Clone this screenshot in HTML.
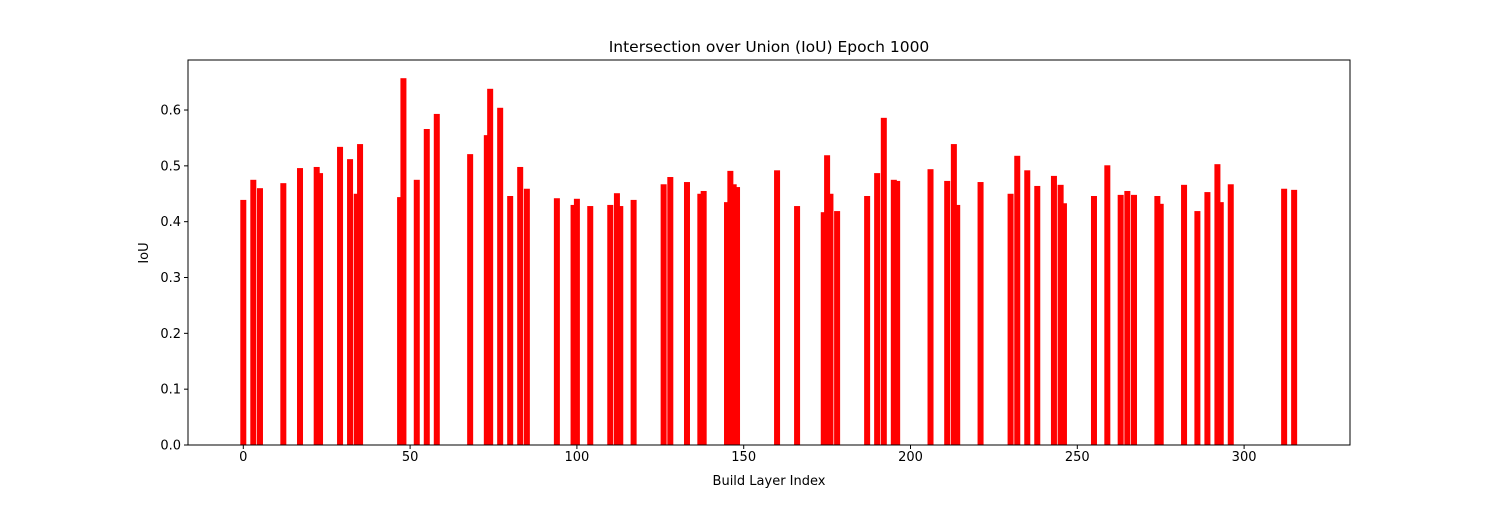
<!DOCTYPE html>
<html><head><meta charset="utf-8"><style>
body{margin:0;background:#fff}
svg text{font-family:"DejaVu Sans","Liberation Sans",sans-serif;fill:#000}
</style></head><body>
<svg id="chart" width="1500" height="500" viewBox="0 0 1500 500" xmlns="http://www.w3.org/2000/svg">
<rect width="1500" height="500" fill="#fff"/>
<text x="769" y="52" font-size="15.5" text-anchor="middle">Intersection over Union (IoU) Epoch 1000</text>
<g id="bars"></g>
<g id="axes"></g>
<text x="769" y="485" font-size="13" text-anchor="middle">Build Layer Index</text>
<text x="148" y="253" font-size="13" text-anchor="middle" transform="rotate(-90 148 253)">IoU</text>
</svg>
<script>
const layerIndex=[0,3,5,12,17,22,23,29,32,34,35,47,48,52,55,58,68,73,74,77,80,83,85,94,99,100,104,110,112,113,117,126,128,133,137,138,145,146,147,148,160,166,174,175,176,178,187,190,192,195,196,206,211,213,214,221,230,232,235,238,243,245,246,255,259,263,265,267,274,275,282,286,289,292,293,296,312,315];
const iouValues=[0.439,0.475,0.460,0.469,0.496,0.498,0.487,0.534,0.512,0.450,0.539,0.444,0.657,0.475,0.566,0.593,0.521,0.555,0.638,0.604,0.446,0.498,0.459,0.442,0.430,0.441,0.428,0.430,0.451,0.428,0.439,0.467,0.480,0.471,0.450,0.455,0.435,0.491,0.467,0.462,0.492,0.428,0.417,0.519,0.450,0.419,0.446,0.487,0.586,0.475,0.473,0.494,0.473,0.539,0.430,0.471,0.450,0.518,0.492,0.464,0.482,0.466,0.433,0.446,0.501,0.448,0.455,0.448,0.446,0.432,0.466,0.419,0.453,0.503,0.435,0.467,0.459,0.457];
const xTicks=[0,50,100,150,200,250,300];
const yTicks=[0.0,0.1,0.2,0.3,0.4,0.5,0.6];
const yTickLabels=["0.0","0.1","0.2","0.3","0.4","0.5","0.6"];
const X0=188,X1=1350,Y0=445,Y1=60;
const xs=v=>243.3+3.336*v;
const ys=v=>445-558.3*v;
const barW=1.8;
const NS="http://www.w3.org/2000/svg";
const bars=document.getElementById('bars');
layerIndex.forEach((idx,i)=>{
  const r=document.createElementNS(NS,'rect');
  
  
  const x=xs(idx-barW/2), w=xs(idx+barW/2)-x;
  r.setAttribute('x',x);r.setAttribute('width',w);
  r.setAttribute('y',ys(iouValues[i]));r.setAttribute('height',ys(0)-ys(iouValues[i]));
  r.setAttribute('fill','#ff0000');
  bars.appendChild(r);
});
const axes=document.getElementById('axes');
const frame=document.createElementNS(NS,'rect');


frame.setAttribute('x',X0);frame.setAttribute('y',Y1);frame.setAttribute('width',X1-X0);frame.setAttribute('height',Y0-Y1);
frame.setAttribute('fill','none');frame.setAttribute('stroke','#000');frame.setAttribute('stroke-width','1');
axes.appendChild(frame);
xTicks.forEach(t=>{
  const l=document.createElementNS(NS,'line');
  
  
  l.setAttribute('x1',xs(t));l.setAttribute('x2',xs(t));l.setAttribute('y1',Y0);l.setAttribute('y2',Y0+4);l.setAttribute('stroke','#000');
  axes.appendChild(l);
  const tx=document.createElementNS(NS,'text');
  
  
  tx.setAttribute('x',xs(t));tx.setAttribute('y',461);tx.setAttribute('font-size','13');tx.setAttribute('text-anchor','middle');
  tx.textContent=t;axes.appendChild(tx);
});
yTicks.forEach((t,i)=>{
  const l=document.createElementNS(NS,'line');
  
  
  l.setAttribute('x1',X0-4);l.setAttribute('x2',X0);l.setAttribute('y1',ys(t));l.setAttribute('y2',ys(t));l.setAttribute('stroke','#000');
  axes.appendChild(l);
  const tx=document.createElementNS(NS,'text');
  
  
  tx.setAttribute('x',X0-7);tx.setAttribute('y',ys(t)+4.5);tx.setAttribute('font-size','13');tx.setAttribute('text-anchor','end');
  tx.textContent=yTickLabels[i];axes.appendChild(tx);
});
</script>
</body></html>
